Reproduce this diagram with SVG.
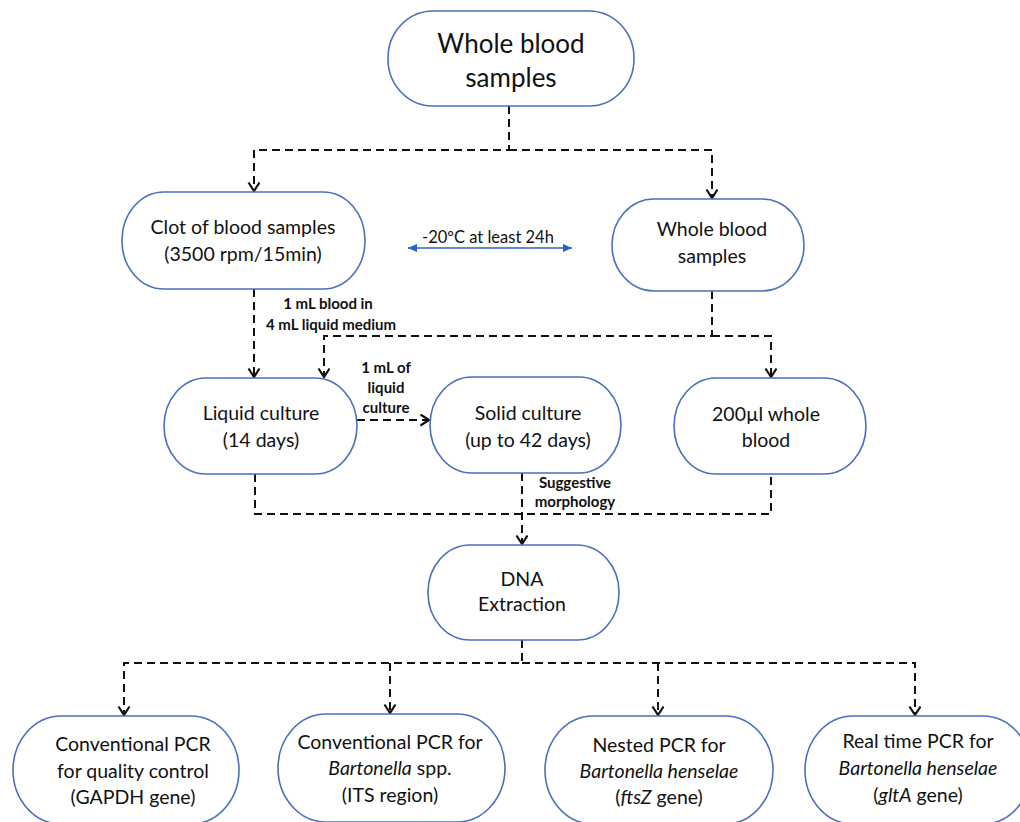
<svg xmlns="http://www.w3.org/2000/svg" width="1020" height="822" viewBox="0 0 1020 822">
<style>
.box{fill:#fff;stroke:#4A6FBE;stroke-width:1.6}
.t{font-family:Lato,"Liberation Sans",sans-serif;fill:#111;text-anchor:middle}
.big{font-size:26px}
.m{font-size:19.5px}
.lb{font-size:15px;font-weight:bold}
.c{fill:none;stroke:#111;stroke-width:2;stroke-dasharray:8 5}
.blue{fill:none;stroke:#2A62C9;stroke-width:1.6}
</style>
<defs>
<marker id="v" markerUnits="userSpaceOnUse" markerWidth="14" markerHeight="14" refX="10" refY="6" orient="auto">
<path d="M1.5,0.5 L10,6 L1.5,11.5" fill="none" stroke="#111" stroke-width="2.2"/>
</marker>
<marker id="tri" markerUnits="userSpaceOnUse" markerWidth="12" markerHeight="12" refX="9" refY="5" orient="auto-start-reverse">
<path d="M0,1 L9,5 L0,9 Z" fill="#2A62C9"/>
</marker>
</defs>
<rect width="1020" height="822" fill="#fff"/>
<g id="connectors">
<path class="c" d="M509,106 V150 H254 V191" marker-end="url(#v)"/>
<path class="c" d="M509,150 H712 V198" marker-end="url(#v)"/>
<path class="c" d="M254,289 V377" marker-end="url(#v)"/>
<path class="c" d="M712,291 V336 H324 V377" marker-end="url(#v)"/>
<path class="c" d="M712,336 H771 V377" marker-end="url(#v)"/>
<path class="c" d="M357,420 H429" marker-end="url(#v)"/>
<path class="c" d="M255,474 V514 H771 V474"/>
<path class="c" d="M522,473 V544" marker-end="url(#v)"/>
<path class="c" d="M522,640 V663 H124 V715" marker-end="url(#v)"/>
<path class="c" d="M390,663 V713" marker-end="url(#v)"/>
<path class="c" d="M522,663 H915 V715" marker-end="url(#v)"/>
<path class="c" d="M658,663 V715" marker-end="url(#v)"/>
<path class="blue" d="M408,248 H572" marker-start="url(#tri)" marker-end="url(#tri)"/>
<text class="t" x="488" y="243" style="font-size:16.5px">-20ºC at least 24h</text>
<text class="t lb" x="328" y="309">1 mL blood in</text>
<text class="t lb" x="331" y="330">4 mL liquid medium</text>
<text class="t lb" x="386" y="373">1 mL of</text>
<text class="t lb" x="386" y="393">liquid</text>
<text class="t lb" x="386" y="413">culture</text>
<text class="t lb" x="575" y="488">Suggestive</text>
<text class="t lb" x="575" y="507">morphology</text>
</g>
<g id="n-top">
<rect class="box" x="388" y="11" width="246" height="95" rx="45" ry="47"/>
<text class="t big" x="511" y="53">Whole blood</text>
<text class="t big" x="511" y="87">samples</text>
</g>
<g id="n-clot">
<rect class="box" x="122" y="192" width="243" height="97" rx="42" ry="48"/>
<text class="t m" x="243" y="234">Clot of blood samples</text>
<text class="t m" x="243" y="261">(3500 rpm/15min)</text>
</g>
<g id="n-whole">
<rect class="box" x="612" y="199" width="192" height="92" rx="42" ry="46"/>
<text class="t m" x="712" y="236">Whole blood</text>
<text class="t m" x="712" y="263">samples</text>
</g>
<g id="n-liquid">
<rect class="box" x="164" y="378" width="193" height="96" rx="42" ry="48"/>
<text class="t m" x="261" y="420">Liquid culture</text>
<text class="t m" x="261" y="447">(14 days)</text>
</g>
<g id="n-solid">
<rect class="box" x="430" y="377" width="191" height="96" rx="42" ry="48"/>
<text class="t m" x="528" y="420">Solid culture</text>
<text class="t m" x="528" y="447">(up to 42 days)</text>
</g>
<g id="n-200">
<rect class="box" x="674" y="378" width="192" height="96" rx="42" ry="48"/>
<text class="t m" x="766" y="421">200µl whole</text>
<text class="t m" x="766" y="447">blood</text>
</g>
<g id="n-dna">
<rect class="box" x="428" y="545" width="191" height="95" rx="42" ry="47"/>
<text class="t m" x="522" y="586">DNA</text>
<text class="t m" x="522" y="611">Extraction</text>
</g>
<g id="n-gapdh">
<rect class="box" x="13" y="716" width="226" height="108" rx="48" ry="54"/>
<text class="t m" x="133" y="751">Conventional PCR</text>
<text class="t m" x="133" y="778">for quality control</text>
<text class="t m" x="133" y="804">(GAPDH gene)</text>
</g>
<g id="n-its">
<rect class="box" x="278" y="714" width="227" height="108" rx="48" ry="54"/>
<text class="t m" x="390" y="749">Conventional PCR for</text>
<text class="t m" x="390" y="775"><tspan font-style="italic">Bartonella</tspan> spp.</text>
<text class="t m" x="390" y="802">(ITS region)</text>
</g>
<g id="n-ftsz">
<rect class="box" x="545" y="716" width="228" height="108" rx="48" ry="54"/>
<text class="t m" x="659" y="752">Nested PCR for</text>
<text class="t m" x="659" y="778" font-style="italic">Bartonella henselae</text>
<text class="t m" x="659" y="804">(<tspan font-style="italic">ftsZ</tspan> gene)</text>
</g>
<g id="n-glta">
<rect class="box" x="805" y="716" width="226" height="108" rx="48" ry="54"/>
<text class="t m" x="918" y="748">Real time PCR for</text>
<text class="t m" x="918" y="775" font-style="italic">Bartonella henselae</text>
<text class="t m" x="918" y="802">(<tspan font-style="italic">gltA</tspan> gene)</text>
</g>
</svg>
